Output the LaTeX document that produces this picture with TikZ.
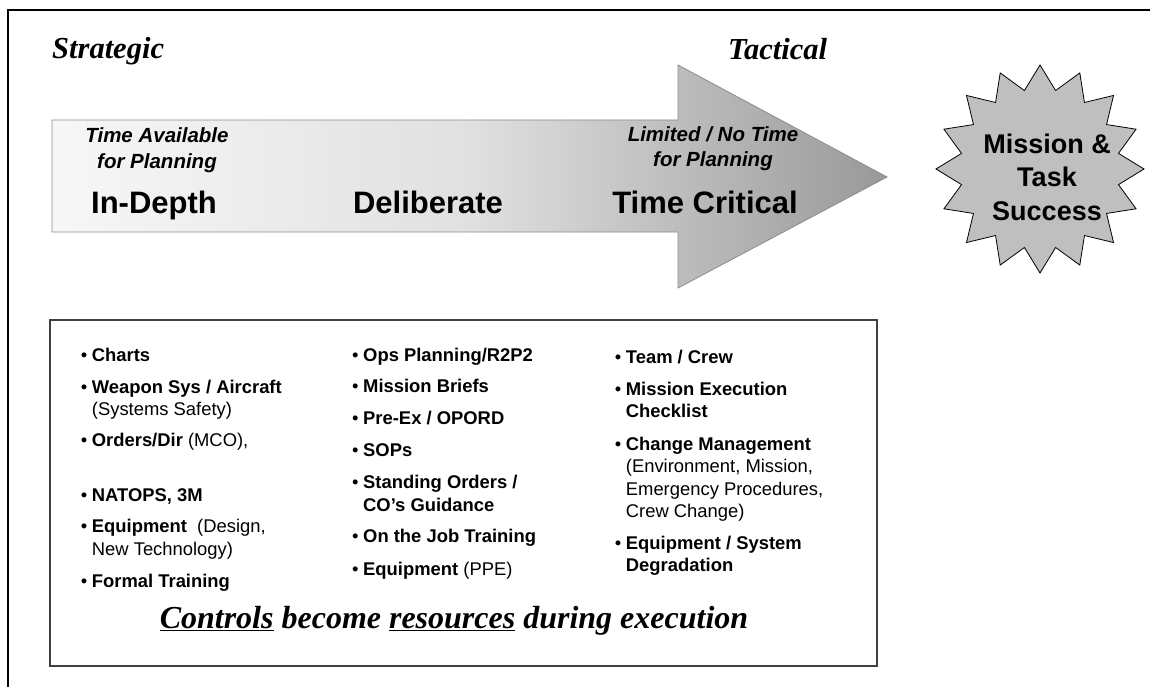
\documentclass[tikz,border=0pt]{standalone}
\usepackage{fontspec}
\setmainfont{Liberation Serif}
\setsansfont{Liberation Sans}
\usetikzlibrary{shapes.geometric}

\newcommand{\bul}{\makebox[11pt][l]{\textbullet}}
\newcommand{\ind}{\hspace*{11pt}}

\begin{document}
\begin{tikzpicture}[x=1pt,y=-1pt,
    headtext/.style={font=\rmfamily\bfseries\itshape\fontsize{30.5}{36}\selectfont, anchor=base west, inner sep=0},
    subtext/.style={font=\sffamily\bfseries\itshape\fontsize{20.5}{25}\selectfont, align=center, anchor=base, inner sep=0},
    phasetext/.style={font=\sffamily\bfseries\fontsize{31}{36}\selectfont, anchor=base, inner sep=0},
    itemtext/.style={font=\sffamily\fontsize{18.4}{22.5}\selectfont, align=left, anchor=base west, inner sep=0},
    missionstar/.style={star, star points=16, star point ratio=1.3, fill=black!25, draw=black, line width=0.8pt, minimum size=208pt, inner sep=0},
    startext/.style={font=\sffamily\bfseries\fontsize{27}{33.5}\selectfont, align=center, inner sep=0}]
    \useasboundingbox (0,0) rectangle (1150,687);
    % outer frame, only top and left edges show
    \draw[line width=2pt] (8,687) -- (8,10) -- (1150,10);
    \node[headtext] at (52,59) (strategic) {Strategic};
    \node[headtext] at (728,60) (tactical) {Tactical};
    % shaded arrow
    \shadedraw[left color=black!3, right color=black!40, middle color=black!12, draw=black!45, line width=0.8pt]
        (52,120) -- (678,120) -- (678,65) -- (887,177) -- (678,288) -- (678,232) -- (52,232) -- cycle;
    % multi-line nodes sit on the baseline of their last line
    \node[subtext] at (157,168) (timeavail) {Time Available\\for Planning};
    \node[subtext] at (713,167) (timelimited) {Limited / No Time\\for Planning};
    \node[phasetext] at (154,213) (indepth) {In-Depth};
    \node[phasetext] at (428,213) (deliberate) {Deliberate};
    \node[phasetext] at (705,213) (timecritical) {Time Critical};
    \node[missionstar] at (1040,169) (success) {};
    \node[startext] at (1047,177) (successtext) {Mission \&\\Task\\Success};
    % controls box
    \draw[draw=black!75, line width=1.2pt] (50,320) rectangle (877,666);
    \node[itemtext] at (80.7,361) (charts) {\bul\textbf{Charts}};
    \node[itemtext] at (80.7,415.5) (weapon) {\bul\textbf{Weapon Sys / Aircraft}\\\ind(Systems Safety)};
    \node[itemtext] at (80.7,446.7) (orders) {\bul\textbf{Orders/Dir} (MCO),};
    \node[itemtext] at (80.7,501) (natops) {\bul\textbf{NATOPS, 3M}};
    \node[itemtext] at (80.7,555) (equipdesign) {\bul\textbf{Equipment}\ \ (Design,\\\ind New Technology)};
    \node[itemtext] at (80.7,587.3) (formal) {\bul\textbf{Formal Training}};
    \node[itemtext] at (352,361) (opsplan) {\bul\textbf{Ops Planning/R2P2}};
    \node[itemtext] at (352,392.7) (briefs) {\bul\textbf{Mission Briefs}};
    \node[itemtext] at (352,424.3) (preex) {\bul\textbf{Pre-Ex / OPORD}};
    \node[itemtext] at (352,456) (sops) {\bul\textbf{SOPs}};
    \node[itemtext] at (352,511) (standing) {\bul\textbf{Standing Orders /}\\\ind\textbf{CO’s Guidance}};
    \node[itemtext] at (352,542.3) (ojt) {\bul\textbf{On the Job Training}};
    \node[itemtext] at (352,575) (equipppe) {\bul\textbf{Equipment} (PPE)};
    \node[itemtext] at (614.7,363.3) (team) {\bul\textbf{Team / Crew}};
    \node[itemtext] at (614.7,417.5) (checklist) {\bul\textbf{Mission Execution}\\\ind\textbf{Checklist}};
    \node[itemtext] at (614.7,517.5) (change) {\bul\textbf{Change Management}\\\ind(Environment, Mission,\\\ind Emergency Procedures,\\\ind Crew Change)};
    \node[itemtext] at (614.7,571.5) (degrade) {\bul\textbf{Equipment / System}\\\ind\textbf{Degradation}};
    \node[font=\rmfamily\bfseries\itshape\fontsize{32}{38}\selectfont, anchor=base, inner sep=0] at (454,628) (motto)
        {\underline{Controls} become \underline{resources} during execution};
\end{tikzpicture}
\end{document}
